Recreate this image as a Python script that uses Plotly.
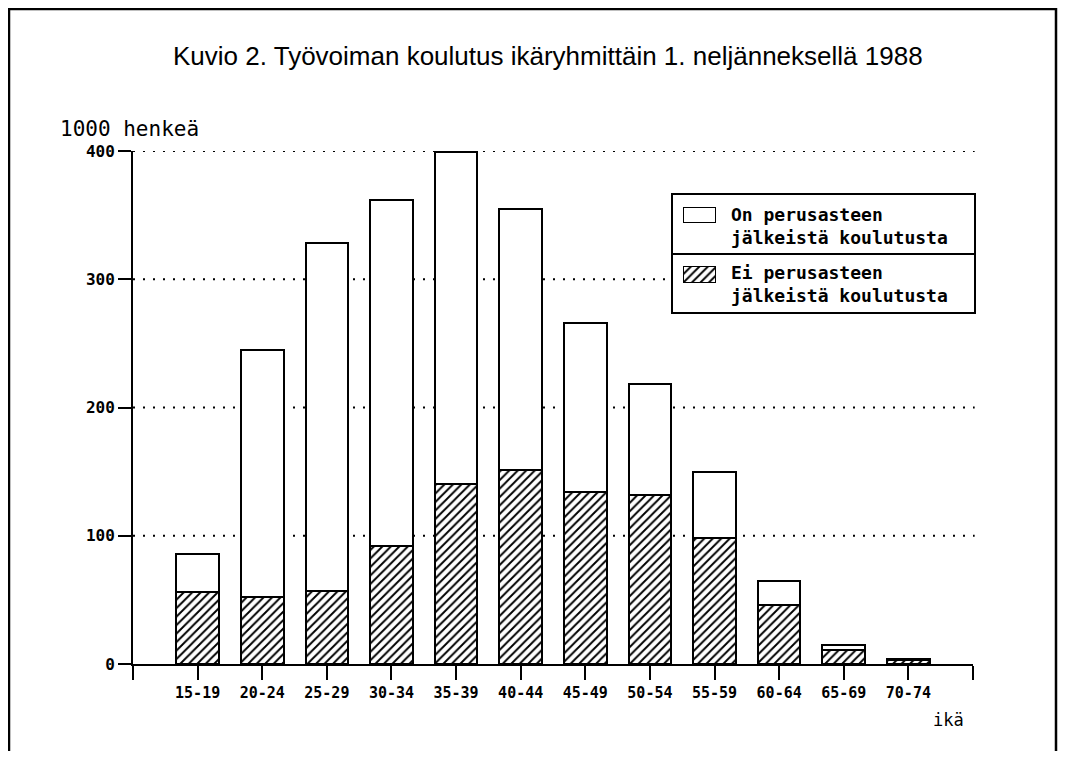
import plotly.graph_objects as go

# ---- data (1000 persons) ----
categories = ["15-19", "20-24", "25-29", "30-34", "35-39", "40-44",
              "45-49", "50-54", "55-59", "60-64", "65-69", "70-74"]
ei_perusasteen = [56, 52, 57, 92, 140, 151, 134, 132, 98, 46, 11, 3]   # hatched
on_perusasteen = [30, 193, 271, 270, 259, 204, 132, 86, 52, 19, 4, 1]  # white, stacked on top
y_ticks = [0, 100, 200, 300, 400]

title_text = "Kuvio 2. Työvoiman koulutus ikäryhmittäin 1. neljänneksellä 1988"
y_label = "1000 henkeä"
x_label = "ikä"
legend_on = "On perusasteen<br>jälkeistä koulutusta"
legend_ei = "Ei perusasteen<br>jälkeistä koulutusta"

# ---- geometry (page has an 8px body margin) ----
OFF = 8
W, H = 1066 - 2 * OFF, 759 - 2 * OFF
ML, MT = 133 - OFF, 151 - OFF
MR = W - (973 - OFF)
MB = H - (664 - OFF)
PW, PH = W - ML - MR, H - MT - MB


def px(x):  # screen x -> paper
    return (x - OFF - ML) / PW


def py(y):  # screen y -> paper
    return (H - MB - (y - OFF)) / PH


MONO = "DejaVu Sans Mono"
hatch = dict(shape="/", fgcolor="black", bgcolor="white", size=6,
             solidity=0.32, fillmode="replace")

xs = list(range(len(categories)))

fig = go.Figure()
fig.add_trace(go.Bar(
    x=xs, y=ei_perusasteen, name="Ei perusasteen jälkeistä koulutusta",
    marker=dict(color="white", pattern=hatch, line=dict(color="black", width=2)),
    showlegend=False))
fig.add_trace(go.Bar(
    x=xs, y=on_perusasteen, name="On perusasteen jälkeistä koulutusta",
    marker=dict(color="white", line=dict(color="black", width=2)),
    showlegend=False))

# legend swatches on tiny helper axes
fig.add_trace(go.Bar(x=[0], y=[1], width=[1], xaxis="x2", yaxis="y2",
                     marker=dict(color="white", line=dict(color="black", width=2)),
                     showlegend=False, hoverinfo="skip", cliponaxis=False))
fig.add_trace(go.Bar(x=[0], y=[1], width=[1], xaxis="x3", yaxis="y3",
                     marker=dict(color="white", pattern=hatch,
                                 line=dict(color="black", width=2)),
                     showlegend=False, hoverinfo="skip", cliponaxis=False))

shapes = []
# outer frame
shapes.append(dict(type="rect", xref="paper", yref="paper",
                   x0=px(9), x1=px(1056), y0=py(790), y1=py(9),
                   line=dict(color="black", width=2.5), fillcolor="rgba(0,0,0,0)",
                   layer="below"))
# dotted gridlines
for v in y_ticks[1:]:
    shapes.append(dict(type="line", xref="paper", yref="y", x0=0, x1=1.002,
                       y0=v, y1=v, line=dict(color="black", width=2, dash="2px,8px"),
                       layer="below"))
# legend boxes
shapes.append(dict(type="rect", xref="paper", yref="paper",
                   x0=px(672), x1=px(975), y0=py(254), y1=py(194),
                   line=dict(color="black", width=2), fillcolor="white", layer="below"))
shapes.append(dict(type="rect", xref="paper", yref="paper",
                   x0=px(672), x1=px(975), y0=py(313), y1=py(254),
                   line=dict(color="black", width=2), fillcolor="white", layer="below"))

annotations = [
    dict(text=title_text, xref="paper", yref="paper", x=px(548), y=py(56),
         xanchor="center", yanchor="middle", showarrow=False,
         font=dict(family="Liberation Sans", size=26, color="black")),
    dict(text=y_label, xref="paper", yref="paper", x=px(58), y=py(129),
         xanchor="left", yanchor="middle", showarrow=False,
         font=dict(family=MONO, size=21, color="black")),
    dict(text=x_label, xref="paper", yref="paper", x=px(948), y=py(720),
         xanchor="center", yanchor="middle", showarrow=False,
         font=dict(family=MONO, size=17, color="black")),
    dict(text=legend_on, xref="paper", yref="paper", x=px(729), y=py(226),
         xanchor="left", yanchor="middle", align="left", showarrow=False,
         font=dict(family=MONO, size=18, color="black", weight="bold")),
    dict(text=legend_ei, xref="paper", yref="paper", x=px(729), y=py(284),
         xanchor="left", yanchor="middle", align="left", showarrow=False,
         font=dict(family=MONO, size=18, color="black", weight="bold")),
]

hidden = dict(visible=False, showgrid=False, zeroline=False, fixedrange=True)

fig.update_layout(
    width=W, height=H,
    margin=dict(l=ML, r=MR, t=MT, b=MB),
    paper_bgcolor="white", plot_bgcolor="rgba(0,0,0,0)",
    barmode="stack", bargap=0.34,
    shapes=shapes, annotations=annotations,
    xaxis=dict(range=[-1, 12], tickmode="array",
               tickvals=list(range(-1, len(categories) + 1)),
               ticktext=[""] + categories + [""],
               ticks="outside", ticklen=14, tickwidth=2, tickcolor="black",
               showline=True, linewidth=2, linecolor="black",
               showgrid=False, zeroline=False,
               tickfont=dict(family=MONO, size=15, color="black", weight="bold")),
    yaxis=dict(range=[0, 400], tickmode="array", tickvals=y_ticks,
               ticktext=[str(v) for v in y_ticks],
               ticks="outside", ticklen=13, tickwidth=2, tickcolor="black",
               showline=True, linewidth=2, linecolor="black",
               showgrid=False, zeroline=False,
               tickfont=dict(family=MONO, size=16, color="black", weight="bold")),
    xaxis2=dict(domain=[px(683), px(716)], range=[-0.5, 0.5], anchor="y2", **hidden),
    yaxis2=dict(domain=[py(223), py(207)], range=[0, 1], anchor="x2", **hidden),
    xaxis3=dict(domain=[px(683), px(716)], range=[-0.5, 0.5], anchor="y3", **hidden),
    yaxis3=dict(domain=[py(283), py(266)], range=[0, 1], anchor="x3", **hidden),
)

fig.write_html("out.html")
